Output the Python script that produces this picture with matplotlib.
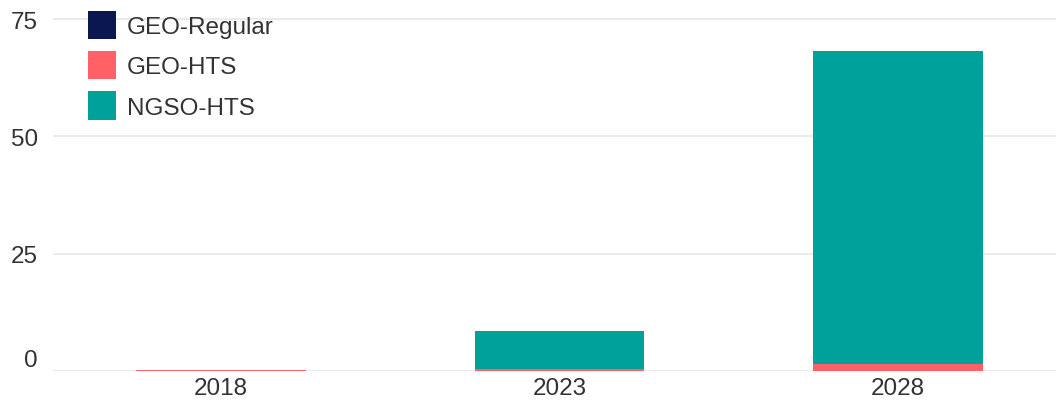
import matplotlib
matplotlib.use("Agg")
import matplotlib.pyplot as plt
import numpy as np

years = ["2018", "2023", "2028"]
geo_regular = [0.1, 0.05, 0.05]
geo_hts = [0.02, 0.3, 1.4]
ngso_hts = [0.0, 8.2, 66.8]
series_names = ["GEO-Regular", "GEO-HTS", "NGSO-HTS"]
colors = ["#0B1750", "#FF6167", "#00A19A"]
yticks = [0, 25, 50, 75]

plt.rcParams['font.family'] = ['Liberation Sans', 'DejaVu Sans']
W, H = 1056, 406
fs = 17.5
fig = plt.figure(figsize=(W / 100, H / 100), dpi=100)
ax = fig.add_axes([53 / W, (H - 372) / H, (W - 53) / W, (372 - 6) / H])

x = np.arange(len(years))
bottom = np.zeros(len(years))
for vals, name, c in zip([geo_regular, geo_hts, ngso_hts], series_names, colors):
    ax.bar(x, vals, width=0.5, bottom=bottom, color=c, label=name, zorder=3, linewidth=0)
    bottom += np.array(vals)

ax.set_ylim(0, 78)
ax.set_xlim(-(221 - 53) / 338.5, 2 + (W - 898) / 338.5)
ax.set_yticks(yticks)
ax.set_yticklabels([str(t) for t in yticks])
ax.set_xticks(x)
ax.set_xticklabels(years)
ax.grid(axis='y', color='#EBEBEB', linewidth=1.5, zorder=0)
ax.grid(axis='x', visible=False)
for s in ax.spines.values():
    s.set_visible(False)
ax.tick_params(axis='both', length=0, labelsize=fs, labelcolor='#333333')
ax.tick_params(axis='y', pad=11)
ax.tick_params(axis='x', pad=4)
for lab in ax.get_yticklabels():
    if lab.get_text() == '0':
        lab.set_verticalalignment('bottom')

leg = ax.legend(loc='upper left', bbox_to_anchor=(88 / W, 1 - 12 / H), bbox_transform=fig.transFigure,
                frameon=False, fontsize=fs, handlelength=1.15, handleheight=1.4,
                handletextpad=0.45, labelspacing=0.5, borderpad=0, borderaxespad=0)
for t in leg.get_texts():
    t.set_color('#333333')

fig.savefig("out.png", dpi=100)
